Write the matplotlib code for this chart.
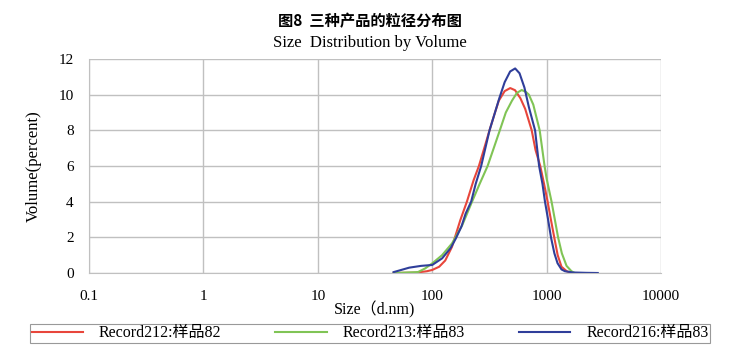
import matplotlib.pyplot as plt
import numpy as np

plt.rcParams['font.family'] = ['Liberation Serif', 'Noto Sans CJK SC']

# Record212:样品82 (red)
size_212 = [46, 72, 90, 100, 115, 130, 149, 176, 201, 230, 256, 285, 317, 350, 382,
            430, 481, 530, 590, 650, 741, 800, 880, 950, 1021, 1090, 1166, 1250,
            1350, 1500, 1650]
vol_212 = [0.0, 0.02, 0.1, 0.17, 0.35, 0.7, 1.47, 2.96, 4.0, 5.2, 6.0, 7.0, 8.0, 8.9, 9.66,
           10.2, 10.37, 10.25, 9.8, 9.2, 8.0, 6.9, 6.0, 5.0, 4.0, 3.0, 2.0, 1.0,
           0.35, 0.1, 0.0]

# Record213:样品83 (green)
size_213 = [46, 75, 87, 100, 122, 149, 183, 223, 260, 305, 345, 390, 440, 498, 550,
            606, 660, 700, 765, 870, 960, 1000, 1105, 1180, 1260, 1360, 1494, 1650, 1760]
vol_213 = [0.0, 0.05, 0.26, 0.54, 1.0, 1.66, 2.68, 4.0, 5.0, 6.0, 7.0, 8.0, 9.0, 9.66, 10.1,
           10.26, 10.15, 10.0, 9.44, 8.0, 6.0, 5.3, 4.0, 3.0, 2.0, 1.1, 0.4, 0.1, 0.0]

# Record216:样品83 (blue)
size_216 = [46, 63, 80, 100, 122, 145, 161, 180, 196, 219, 240, 268, 317, 350, 386,
            430, 480, 531, 580, 640, 700, 793, 860, 920, 968, 1030, 1092, 1170,
            1246, 1350, 1446, 1700, 2200, 2800]
vol_216 = [0.05, 0.3, 0.4, 0.45, 0.82, 1.4, 1.94, 2.6, 3.33, 4.0, 5.0, 6.0, 8.0, 8.9, 9.8,
           10.7, 11.3, 11.47, 11.2, 10.4, 9.3, 8.0, 6.0, 5.0, 4.0, 3.0, 2.0, 1.1,
           0.55, 0.2, 0.1, 0.03, 0.01, 0.0]

x_ticks = [0.1, 1, 10, 100, 1000, 10000]
x_labels = ['0.1', '1', '10', '100', '1000', '10000']
y_ticks = [0, 2, 4, 6, 8, 10, 12]

fig = plt.figure(figsize=(7.39, 3.5), dpi=100)
ax = fig.add_axes([89/739, 77/350, 572/739, 214/350])

ax.plot(size_212, vol_212, color='#e8463b', lw=1.5, label='Record212:样品82')
ax.plot(size_213, vol_213, color='#80c455', lw=1.5, label='Record213:样品83')
ax.plot(size_216, vol_216, color='#2f3e9a', lw=1.5, label='Record216:样品83')

ax.set_xscale('log')
ax.set_xlim(0.1, 10000)
ax.set_ylim(0, 12)
ax.set_xticks(x_ticks)
ax.set_xticklabels(x_labels)
ax.minorticks_off()
ax.set_yticks(y_ticks)
ax.tick_params(axis='x', length=0, labelsize=11, pad=12)
ax.tick_params(axis='y', length=0, labelsize=11, pad=11)
ax.grid(True, color='#c0c0c0', lw=1)
for s in ['top', 'right']:
    ax.spines[s].set_visible(False)
for s in ['left', 'bottom']:
    ax.spines[s].set_color('#c0c0c0')

ax.set_xlabel('Size（d.nm)', fontsize=11.5, labelpad=-1)
ax.set_ylabel('Volume(percent)', fontsize=12, labelpad=12)

fig.text(0.5, 0.94, '图8  三种产品的粒径分布图', ha='center', va='center',
         fontsize=11, fontweight='bold', family=['Noto Sans CJK SC', 'DejaVu Sans'])
fig.text(0.5, 0.878, 'Size  Distribution by Volume', ha='center', va='center', fontsize=12)

leg = fig.legend(loc='lower left', bbox_to_anchor=(30/739, 7/350, 680/739, 20/350),
                 mode='expand', ncol=3, fontsize=11.5, frameon=True, fancybox=False,
                 handlelength=3.2, borderpad=0.1, handletextpad=1.0, borderaxespad=0)
leg.get_frame().set_edgecolor('#808080')
leg.get_frame().set_linewidth(0.8)

fig.savefig('out.png', dpi=100)
